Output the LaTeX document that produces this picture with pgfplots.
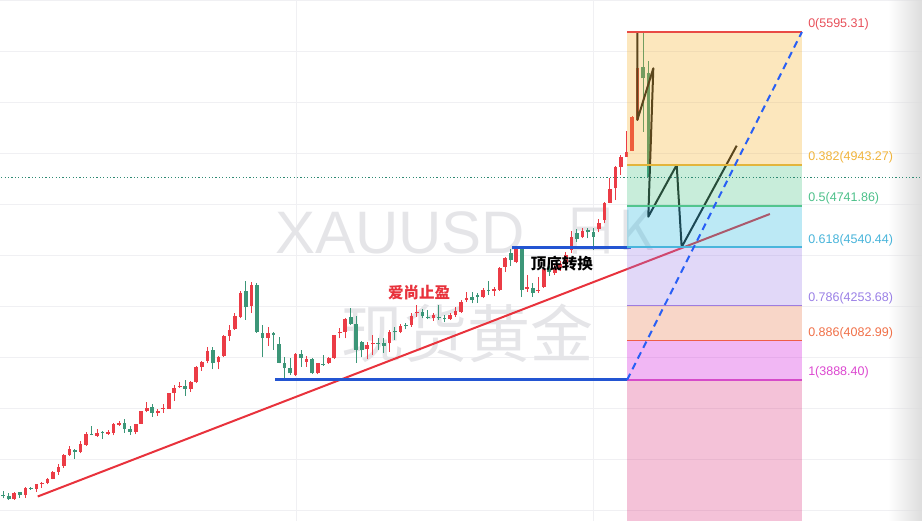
\documentclass[border=0pt]{standalone}
\usepackage{pgfplots}
\pgfplotsset{compat=1.18}
\usepackage{pgfplotstable}
\usetikzlibrary{fadings}
\usepackage{fontspec}
\setmainfont{Liberation Sans}
\newfontfamily\cjk{Noto Sans CJK SC}

% candle colours (red = rising, green = falling)
\definecolor{upc}{HTML}{EB3C46}
\definecolor{dnc}{HTML}{3C9678}
\definecolor{gridc}{HTML}{F0F0F3}
\definecolor{wm}{HTML}{E5E5E8}
\definecolor{trendred}{HTML}{E8323C}
\definecolor{hblue}{HTML}{2355D2}
\definecolor{dblue}{HTML}{285FF5}
\definecolor{curc}{HTML}{2F8A73}
% fibonacci zone fills (drawn translucent)
\definecolor{fz1}{RGB}{245,175,38}
\definecolor{fz2}{RGB}{72,195,132}
\definecolor{fz3}{RGB}{32,182,222}
\definecolor{fz4}{RGB}{155,125,232}
\definecolor{fz5}{RGB}{232,118,72}
\definecolor{fz6}{RGB}{208,15,218}
\definecolor{fz7}{RGB}{218,52,125}
% fibonacci level lines and labels
\definecolor{fl0}{HTML}{E94B45}
\definecolor{fl1}{HTML}{E3B53B}
\definecolor{fl2}{HTML}{52C58E}
\definecolor{fl3}{HTML}{4AB5DC}
\definecolor{fl4}{HTML}{9E7CE0}
\definecolor{fl5}{HTML}{EF5E48}
\definecolor{fl6}{HTML}{D64BC9}
\definecolor{ft0}{HTML}{E8505A}
\definecolor{ft1}{HTML}{F0B43C}
\definecolor{ft2}{HTML}{4CC08A}
\definecolor{ft3}{HTML}{48B4DA}
\definecolor{ft4}{HTML}{9A80E6}
\definecolor{ft5}{HTML}{F07048}
\definecolor{ft6}{HTML}{DC48D0}

% XAUUSD daily candles: open, high, low, close
\pgfplotstableread{
i o h l c
0 3324 3344 3308 3318
1 3319 3333 3300 3303
2 3305 3338 3300 3333
3 3338 3340 3311 3324
4 3324 3364 3311 3357
5 3360 3365 3349 3355
6 3354 3378 3341 3377
7 3378 3390 3360 3382
8 3385 3406 3377 3403
9 3403 3444 3401 3436
10 3439 3476 3422 3460
11 3467 3525 3458 3521
12 3521 3565 3516 3549
13 3545 3550 3502 3537
14 3537 3589 3529 3575
15 3570 3635 3565 3624
16 3625 3663 3617 3620
17 3615 3647 3610 3630
18 3635 3640 3599 3630
19 3624 3643 3619 3635
20 3630 3676 3617 3671
21 3669 3686 3664 3679
22 3679 3697 3630 3648
23 3648 3663 3619 3635
24 3635 3675 3622 3673
25 3674 3738 3672 3736
26 3738 3781 3730 3751
27 3756 3771 3708 3728
28 3725 3745 3713 3738
29 3745 3771 3728 3753
30 3748 3826 3746 3825
31 3826 3864 3785 3849
32 3853 3880 3848 3856
33 3860 3888 3811 3844
34 3846 3884 3831 3879
35 3877 3955 3873 3954
36 3954 3983 3934 3978
37 3982 4048 3970 4031
38 4036 4052 3941 3970
39 3975 4006 3941 4003
40 4006 4109 4001 4104
41 4106 4158 4081 4134
42 4137 4216 4134 4202
43 4199 4326 4191 4317
44 4325 4376 4183 4245
45 4251 4371 4216 4354
46 4354 4366 4120 4123
47 4121 4158 4000 4093
48 4093 4150 4055 4121
49 4121 4126 4036 4109
50 4065 4101 3970 3973
51 3973 4000 3888.4 3946
52 3946 3995 3913 3921
53 3913 4022 3908 4015
54 4015 4036 3954 3995
55 3978 4006 3954 3991
56 3991 3995 3920 3921
57 3921 3973 3916 3970
58 3965 4011 3959 3962
59 3970 4000 3967 3995
60 3995 4110 3993 4109
61 4117 4142 4093 4125
62 4125 4191 4093 4186
63 4199 4240 4158 4163
64 4163 4202 3973 4036
65 4076 4081 4000 4036
66 4039 4076 3990 4060
67 4065 4109 4011 4071
68 4071 4093 4036 4068
69 4068 4093 4022 4055
70 4068 4134 4027 4125
71 4129 4150 4085 4122
72 4125 4163 4117 4153
73 4158 4167 4137 4153
74 4158 4216 4150 4204
75 4216 4256 4199 4223
76 4223 4235 4191 4202
77 4199 4232 4186 4194
78 4194 4216 4179 4207
79 4199 4256 4183 4191
80 4191 4207 4171 4186
81 4186 4216 4183 4207
82 4207 4245 4199 4229
83 4223 4281 4218 4272
84 4281 4322 4272 4289
85 4297 4322 4264 4281
86 4305 4317 4268 4297
87 4294 4338 4289 4330
88 4330 4372 4305 4325
89 4325 4346 4300 4333
90 4330 4443 4326 4438
91 4444 4493 4420 4485
92 4510 4531 4448 4475
93 4466 4540 4461 4534
94 4534 4540 4297 4330
95 4335 4403 4322 4346
96 4338 4363 4297 4314
97 4326 4392 4314 4330
98 4346 4439 4340 4433
99 4433 4450 4400 4420
100 4415 4455 4405 4440
101 4438 4470 4425 4455
102 4460 4515 4450 4500
103 4526 4619 4511 4590
104 4608 4628 4567 4580
105 4588 4633 4583 4619
106 4624 4633 4583 4613
107 4613 4633 4526 4591
108 4628 4677 4613 4660
109 4673 4763 4657 4758
110 4758 4878 4755 4824
111 4829 4936 4771 4935
112 4935 4992 4894 4984
113 4984 5110 4982 5008
114 5013 5182 5011 5180
115 5164 5450 5160 5417
116 5425 5595.31 5107 5368
117 5393 5455 4883 4883
}\candles

\begin{document}
\begin{tikzpicture}
\begin{axis}[
  at={(0,0)}, anchor=south west,
  width=922bp, height=521bp, scale only axis,
  xmin=-0.598, xmax=166.58, ymin=3196.8, ymax=5752.3,
  axis line style={draw=none},
  xtick={53.07,106.93}, ytick={3250,3500,...,5750},
  xticklabels={}, yticklabels={},
  major tick length=0pt,
  grid=major, major grid style={color=gridc, line width=0.9bp},
  clip=true,
  candle/.style={draw=none, mark=none, forget plot,
    error bars/.cd, y dir=plus, y explicit, error mark=none},
]
% soft shade along the right edge
\fill[black!14, path fading=west, draw=none]
  (axis cs:160.4,3100) rectangle (axis cs:167,5800);

% watermark
\node[anchor=west, text=wm, inner sep=0pt, font=\fontsize{60bp}{60bp}\selectfont]
  at (axis cs:49.27,4611.9) {XAUUSD};
\node[anchor=west, text=wm, inner sep=0pt, font=\cjk\fontsize{55bp}{55bp}\selectfont]
  at (axis cs:101.6,4616) {日K};
\node[text=wm, inner sep=0pt, font=\cjk\fontsize{63bp}{63bp}\selectfont]
  at (axis cs:84.08,4118.9) {现货黄金};

% wicks
\addplot[candle, error bar style={draw=upc, line width=1bp}]
  table[x=i, y expr={\thisrow{c}>=\thisrow{o} ? \thisrow{l} : nan},
        y error plus expr={\thisrow{h}-\thisrow{l}}] {\candles};
\addplot[candle, error bar style={draw=dnc, line width=1bp}]
  table[x=i, y expr={\thisrow{c}<\thisrow{o} ? \thisrow{l} : nan},
        y error plus expr={\thisrow{h}-\thisrow{l}}] {\candles};
% bodies
\addplot[candle, error bar style={draw=upc, line width=3.7bp}]
  table[x=i, y expr={\thisrow{c}>=\thisrow{o} ? \thisrow{o} : nan},
        y error plus expr={max(\thisrow{c}-\thisrow{o},4)}] {\candles};
\addplot[candle, error bar style={draw=dnc, line width=3.7bp}]
  table[x=i, y expr={\thisrow{c}<\thisrow{o} ? \thisrow{c} : nan},
        y error plus expr={max(\thisrow{o}-\thisrow{c},4)}] {\candles};

% trend line and support / resistance
\addplot[trendred, line width=2bp] coordinates {(6.24,3317) (139.0,4702.6)};
\addplot[hblue, line width=3bp] coordinates {(49.3,3888.4) (113.1,3888.4)};
\addplot[hblue, line width=3bp] coordinates {(92.24,4540.44) (113.8,4540.44)};
% projected path
\addplot[black!90, line width=2bp, line join=round] coordinates {
  (114.96,5595.31) (114.96,5163.7) (117.86,5417.3) (116.95,4689.4)
  (122.1,4943.27) (123.0,4540.44) (132.98,5037.6)};

% fibonacci retracement zones
\addplot[draw=none, fill=fz1, fill opacity=0.3] coordinates {(113.1,5595.31)(144.8,5595.31)(144.8,4943.27)(113.1,4943.27)};
\addplot[draw=none, fill=fz2, fill opacity=0.3] coordinates {(113.1,4943.27)(144.8,4943.27)(144.8,4741.86)(113.1,4741.86)};
\addplot[draw=none, fill=fz3, fill opacity=0.3] coordinates {(113.1,4741.86)(144.8,4741.86)(144.8,4540.44)(113.1,4540.44)};
\addplot[draw=none, fill=fz4, fill opacity=0.3] coordinates {(113.1,4540.44)(144.8,4540.44)(144.8,4253.68)(113.1,4253.68)};
\addplot[draw=none, fill=fz5, fill opacity=0.3] coordinates {(113.1,4253.68)(144.8,4253.68)(144.8,4082.99)(113.1,4082.99)};
\addplot[draw=none, fill=fz6, fill opacity=0.3] coordinates {(113.1,4082.99)(144.8,4082.99)(144.8,3888.40)(113.1,3888.40)};
\addplot[draw=none, fill=fz7, fill opacity=0.3] coordinates {(113.1,3888.40)(144.8,3888.40)(144.8,3100)(113.1,3100)};

% fibonacci level lines
\addplot[fl0, line width=1.6bp] coordinates {(113.1,5595.31)(144.8,5595.31)};
\addplot[fl1, line width=1.6bp] coordinates {(113.1,4943.27)(144.8,4943.27)};
\addplot[fl2, line width=1.6bp] coordinates {(113.1,4741.86)(144.8,4741.86)};
\addplot[fl3, line width=1.6bp] coordinates {(113.1,4540.44)(144.8,4540.44)};
\addplot[fl4, line width=1.6bp] coordinates {(113.1,4253.68)(144.8,4253.68)};
\addplot[fl5, line width=1.6bp] coordinates {(113.1,4082.99)(144.8,4082.99)};
\addplot[fl6, line width=1.6bp] coordinates {(113.1,3888.40)(144.8,3888.40)};

% last price
\addplot[curc, line width=0.9bp, dash pattern=on 1.2bp off 2.2bp] coordinates {(-1,4883)(170,4883)};
% swing projection
\addplot[dblue, line width=2bp, dash pattern=on 7bp off 5bp] coordinates {(113.1,3888.4)(144.8,5595.31)};

% level labels
\begin{scope}[every node/.style={anchor=base west, inner sep=0pt, yshift=4bp,
    font=\fontsize{12.5bp}{13bp}\selectfont}]
\node[text=ft0] at (axis cs:145.92,5595.31) {0(5595.31)};
\node[text=ft1] at (axis cs:145.92,4943.27) {0.382(4943.27)};
\node[text=ft2] at (axis cs:145.92,4741.86) {0.5(4741.86)};
\node[text=ft3] at (axis cs:145.92,4540.44) {0.618(4540.44)};
\node[text=ft4] at (axis cs:145.92,4253.68) {0.786(4253.68)};
\node[text=ft5] at (axis cs:145.92,4082.99) {0.886(4082.99)};
\node[text=ft6] at (axis cs:145.92,3888.40) {1(3888.40)};
\end{scope}

% annotations
\node[text=trendred, inner sep=0pt, font=\cjk\bfseries\fontsize{15.5bp}{16bp}\selectfont]
  at (axis cs:75.38,4315.1) {爱尚止盈};
\node[text=black, inner sep=0pt, font=\cjk\bfseries\fontsize{15.5bp}{16bp}\selectfont]
  at (axis cs:101.3,4459) {顶底转换};
\end{axis}
\pgfresetboundingbox
\path[use as bounding box] (0,0) rectangle (922bp,521bp);
\end{tikzpicture}
\end{document}
